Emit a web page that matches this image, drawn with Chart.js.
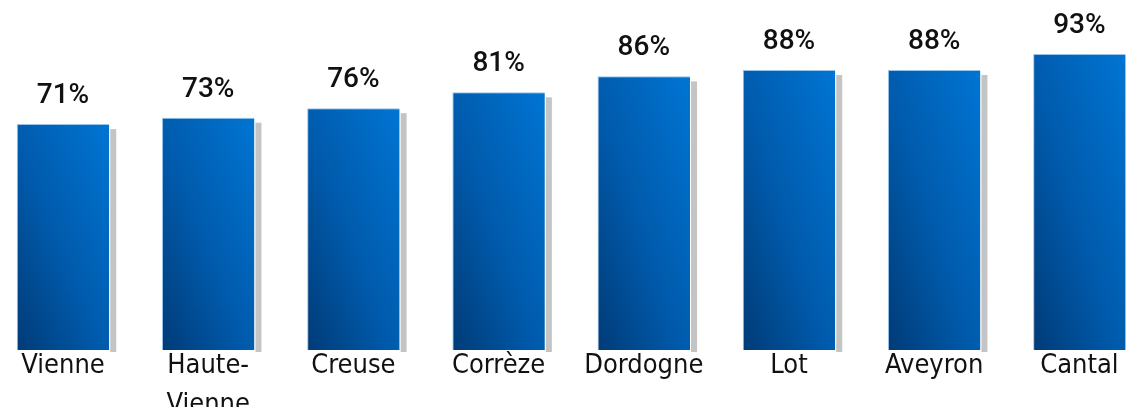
<!DOCTYPE html>
<html>
<head>
<meta charset="utf-8">
<script src="https://cdn.jsdelivr.net/npm/chart.js@4"></script>
<style>
  html, body { margin: 0; padding: 0; background: #fff; }
  #wrap { width: 1126px; height: 407px; position: relative; }
</style>
</head>
<body>
<div id="wrap"><canvas id="chart-dep"></canvas></div>
<script>
// départements et taux (en %)
var departements = ["Vienne", ["Haute-", "Vienne"], "Creuse", "Corrèze", "Dordogne", "Lot", "Aveyron", "Cantal"];
var taux = [71, 73, 76, 81, 86, 88, 88, 93];

(function () {
  "use strict";

  var FONT_CAT = "27px 'DejaVu Sans Condensed', 'DejaVu Sans', sans-serif";
  var FONT_VAL = "500 28px Roboto, 'Open Sans', sans-serif";
  var LARGEUR = 0.637;

  // dégradé bleu : sombre en bas à gauche, clair en haut à droite
  function degradeBarre(c) {
    var chart = c.chart;
    var sx = chart.scales.x, sy = chart.scales.y;
    if (!chart.chartArea || !sx || !sy || c.raw == null) return "#005eb0";
    var w = (sx.getPixelForValue(1) - sx.getPixelForValue(0)) * LARGEUR;
    var top = sy.getPixelForValue(c.raw.y);
    var bottom = sy.getPixelForValue(0);
    var h = bottom - top;
    if (!(w > 0) || !(h > 0)) return "#005eb0";
    var left = sx.getPixelForValue(c.raw.x) - w / 2;
    var a = 0.5 / w, b = 0.5 / h;
    var n = a * a + b * b;
    var g = chart.ctx.createLinearGradient(left, bottom, left + a / n, bottom - b / n);
    g.addColorStop(0, "#003b77");
    g.addColorStop(0.45, "#005aab");
    g.addColorStop(1, "#0075d4");
    return g;
  }

  var ombre = {
    id: "ombre",
    beforeDatasetsDraw: function (chart) {
      var ctx = chart.ctx;
      var meta = chart.getDatasetMeta(0);
      ctx.save();
      ctx.fillStyle = "#c4c4c4";
      meta.data.forEach(function (bar) {
        var right = bar.x + bar.width / 2;
        ctx.fillRect(right + 1, bar.y + 5, 6, bar.base - bar.y - 3);
      });
      ctx.restore();
    },
  };

  var etiquettes = {
    id: "etiquettes",
    afterDatasetsDraw: function (chart) {
      var ctx = chart.ctx;
      var meta = chart.getDatasetMeta(0);
      var area = chart.chartArea;
      ctx.save();
      ctx.fillStyle = "#111";
      ctx.textAlign = "center";
      meta.data.forEach(function (bar, i) {
        ctx.font = FONT_VAL;
        ctx.textBaseline = "alphabetic";
        ctx.fillText(taux[i] + "%", bar.x, bar.y - 21);

        ctx.font = FONT_CAT;
        var lignes = [].concat(departements[i]);
        lignes.forEach(function (l, k) {
          ctx.fillText(l, bar.x, area.bottom + 23 + k * 39);
        });
      });
      ctx.restore();
    },
  };

  new Chart(document.getElementById("chart-dep"), {
    type: "bar",
    data: {
      datasets: [
        {
          data: taux.map(function (v, i) {
            return { x: i, y: v };
          }),
          backgroundColor: degradeBarre,
          borderColor: "rgba(140,190,235,0.9)",
          borderWidth: { top: 1, left: 1, right: 0, bottom: 0 },
          borderSkipped: false,
          categoryPercentage: 1,
          barPercentage: LARGEUR,
        },
      ],
    },
    options: {
      responsive: true,
      maintainAspectRatio: false,
      animation: false,
      layout: { padding: { top: 0, left: 0, right: 0, bottom: 57 } },
      plugins: {
        legend: { display: false },
        tooltip: { enabled: false },
      },
      scales: {
        x: { type: "linear", display: false, offset: false, min: -0.434, max: 7.321 },
        y: { display: false, min: 0, max: 110 },
      },
    },
    plugins: [ombre, etiquettes],
  });
})();
</script>
</body>
</html>
